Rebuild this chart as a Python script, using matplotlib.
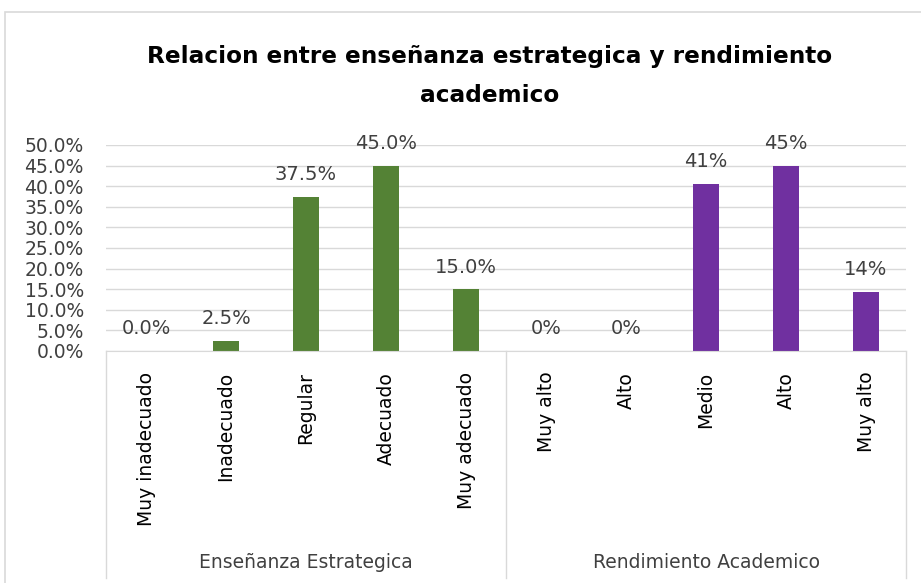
import matplotlib
matplotlib.use("Agg")
import matplotlib.pyplot as plt
from matplotlib.patches import Rectangle
from matplotlib.ticker import PercentFormatter, MultipleLocator

# data
groups = ["Enseñanza Estrategica", "Rendimiento Academico"]
ense_cats = ["Muy inadecuado", "Inadecuado", "Regular", "Adecuado", "Muy adecuado"]
ense_vals = [0.0, 0.025, 0.375, 0.45, 0.15]
rend_cats = ["Muy alto", "Alto", "Medio", "Alto", "Muy alto"]
rend_vals = [0.0, 0.0, 0.406, 0.45, 0.144]

GREEN = "#548235"
PURPLE = "#7030A0"
GRID = "#d9d9d9"
TXT = "#404040"

W, H = 921, 583
fig = plt.figure(figsize=(W / 100, H / 100), dpi=100)

# light chart border like the Excel chart area
fig.patches.append(Rectangle((5 / W, -0.1), 1.2, 1 - 12 / H + 0.1, transform=fig.transFigure,
                             fill=False, edgecolor=GRID, linewidth=1.2))

ax = fig.add_axes([106 / W, 1 - 351 / H, 800 / W, 206 / H])

n = len(ense_cats)
xs1 = list(range(n))
xs2 = list(range(n, 2 * n))

ax.bar(xs1, ense_vals, width=0.32, color=GREEN)
ax.bar(xs2, rend_vals, width=0.32, color=PURPLE)

for x, v in zip(xs1, ense_vals):
    ax.annotate(f"{v * 100:.1f}%", (x, v), xytext=(0, 12), textcoords="offset points",
                ha="center", va="baseline", fontsize=14, color=TXT)
for x, v in zip(xs2, rend_vals):
    ax.annotate(f"{v * 100:.0f}%", (x, v), xytext=(0, 12), textcoords="offset points",
                ha="center", va="baseline", fontsize=14, color=TXT)

ax.set_xlim(-0.5, 2 * n - 0.5)
ax.set_ylim(0, 0.5)
ax.yaxis.set_major_locator(MultipleLocator(0.05))
ax.yaxis.set_major_formatter(PercentFormatter(1.0, decimals=1))
ax.tick_params(axis="y", length=0, labelsize=13.5, labelcolor=TXT, pad=16)
ax.grid(axis="y", color=GRID, linewidth=1)
ax.set_axisbelow(True)
for side in ["left", "right", "top"]:
    ax.spines[side].set_visible(False)
ax.spines["bottom"].set_color(GRID)

# category labels, rotated
ax.set_xticks(xs1 + xs2)
ax.set_xticklabels(ense_cats + rend_cats, rotation=90, fontsize=13.5, va="top")
ax.tick_params(axis="x", length=0, pad=15)

# group separators and group labels
trans = ax.get_xaxis_transform()
for xv in [-0.5, n - 0.5, 2 * n - 0.5]:
    ax.plot([xv, xv], [0, -227 / 206], color=GRID, linewidth=1, transform=trans, clip_on=False)
for i, g in enumerate(groups):
    ax.text(i * n + (n - 1) / 2, -211 / 206, g, transform=trans, ha="center", va="center",
            fontsize=13.5, color=TXT)

fig.text(490 / W, 1 - 57 / H, "Relacion entre enseñanza estrategica y rendimiento",
         ha="center", va="center", fontsize=16.7, fontweight="bold")
fig.text(490 / W, 1 - 95 / H, "academico", ha="center", va="center", fontsize=16.7,
         fontweight="bold")

fig.savefig("out.png", dpi=100)
